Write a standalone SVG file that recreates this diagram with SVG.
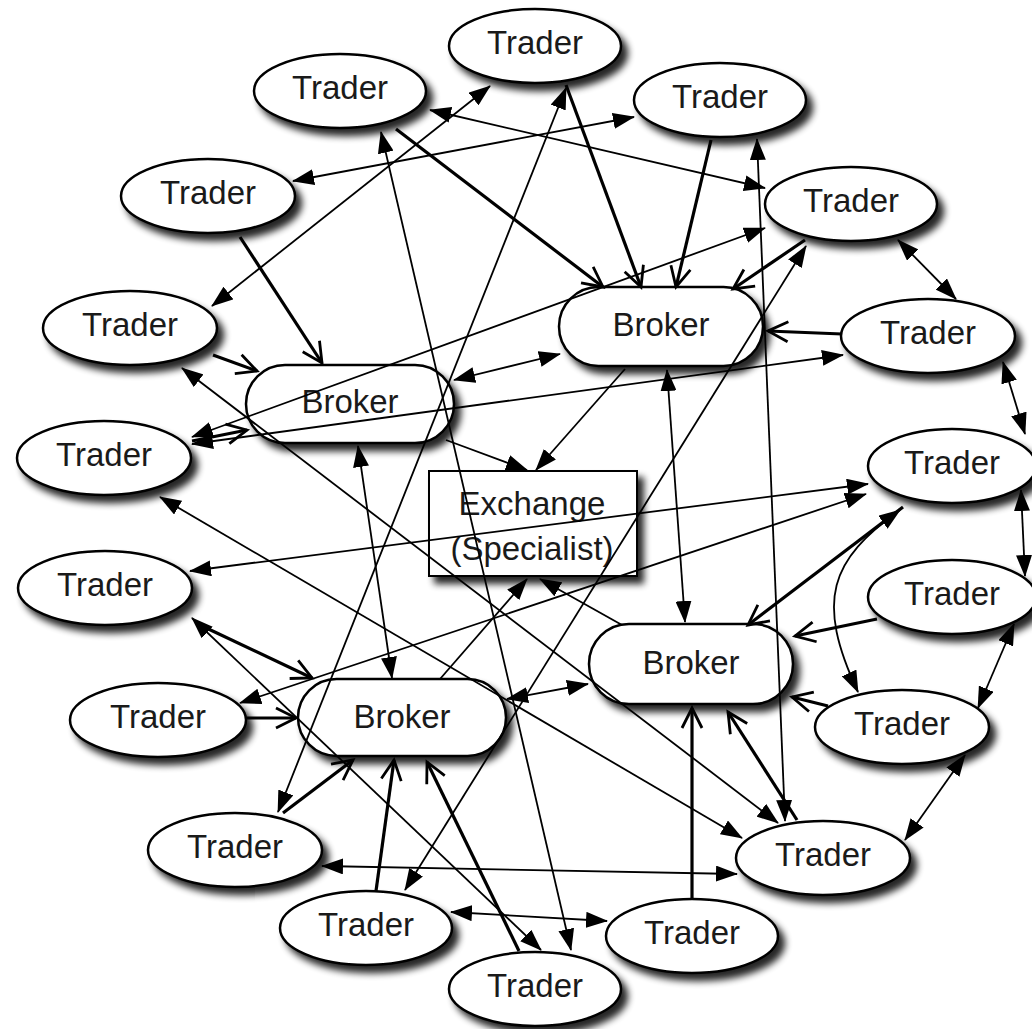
<svg xmlns="http://www.w3.org/2000/svg" width="1032" height="1029" viewBox="0 0 1032 1029">
<defs>
<style>
.n ellipse, .n rect {fill:#fff; stroke:#000; stroke-width:2.5}
text {font-family:"Liberation Sans", Arial, sans-serif; font-size:33px; fill:#1a1a1a; text-anchor:middle}
#edges line, #edges path {stroke:#000; fill:none; stroke-width:1.8}
#edges .k {stroke-width:3.2}
.d {marker-start:url(#f); marker-end:url(#f)}
.e {marker-end:url(#f)}
.o {marker-end:url(#o)}
</style>
<filter id="sh" x="-20%" y="-20%" width="150%" height="160%">
<feGaussianBlur in="SourceAlpha" stdDeviation="3.5"/>
<feOffset dx="6" dy="7"/>
<feComponentTransfer><feFuncA type="linear" slope="0.85"/></feComponentTransfer>
<feMerge><feMergeNode/><feMergeNode in="SourceGraphic"/></feMerge>
</filter>
<marker id="f" viewBox="0 0 22 16" refX="21" refY="8" markerWidth="22" markerHeight="16" markerUnits="userSpaceOnUse" orient="auto-start-reverse"><path d="M0,0 L22,8 L0,16 z" fill="#000"/></marker>
<marker id="o" viewBox="-3 -3 26 26" refX="20" refY="10" markerWidth="26" markerHeight="26" markerUnits="userSpaceOnUse" orient="auto"><path d="M0,0 L20,10 L0,20" fill="none" stroke="#000" stroke-width="2.8"/></marker>
</defs>
<rect width="1032" height="1029" fill="#fff"/>

<g id="nodes">
<g id="t1" class="n"><ellipse cx="535" cy="46" rx="86" ry="37" filter="url(#sh)"/><text x="535" y="54">Trader</text></g>
<g id="t2" class="n"><ellipse cx="340" cy="91" rx="86" ry="37" filter="url(#sh)"/><text x="340" y="99">Trader</text></g>
<g id="t3" class="n"><ellipse cx="720" cy="100" rx="86" ry="37" filter="url(#sh)"/><text x="720" y="108">Trader</text></g>
<g id="t4" class="n"><ellipse cx="208" cy="196" rx="87" ry="37" filter="url(#sh)"/><text x="208" y="204">Trader</text></g>
<g id="t5" class="n"><ellipse cx="851" cy="204" rx="86" ry="37" filter="url(#sh)"/><text x="851" y="212">Trader</text></g>
<g id="t6" class="n"><ellipse cx="130" cy="328" rx="87" ry="37" filter="url(#sh)"/><text x="130" y="336">Trader</text></g>
<g id="t7" class="n"><ellipse cx="928" cy="336" rx="87" ry="37" filter="url(#sh)"/><text x="928" y="344">Trader</text></g>
<g id="t8" class="n"><ellipse cx="104" cy="458" rx="87" ry="37" filter="url(#sh)"/><text x="104" y="466">Trader</text></g>
<g id="t9" class="n"><ellipse cx="952" cy="466" rx="84" ry="37" filter="url(#sh)"/><text x="952" y="474">Trader</text></g>
<g id="t10" class="n"><ellipse cx="105" cy="588" rx="87" ry="37" filter="url(#sh)"/><text x="105" y="596">Trader</text></g>
<g id="t11" class="n"><ellipse cx="952" cy="597" rx="84" ry="37" filter="url(#sh)"/><text x="952" y="605">Trader</text></g>
<g id="t12" class="n"><ellipse cx="158" cy="720" rx="88" ry="37" filter="url(#sh)"/><text x="158" y="728">Trader</text></g>
<g id="t13" class="n"><ellipse cx="902" cy="727" rx="87" ry="37" filter="url(#sh)"/><text x="902" y="735">Trader</text></g>
<g id="t14" class="n"><ellipse cx="235" cy="850" rx="87" ry="37" filter="url(#sh)"/><text x="235" y="858">Trader</text></g>
<g id="t15" class="n"><ellipse cx="823" cy="858" rx="87" ry="37" filter="url(#sh)"/><text x="823" y="866">Trader</text></g>
<g id="t16" class="n"><ellipse cx="366" cy="928" rx="86" ry="37" filter="url(#sh)"/><text x="366" y="936">Trader</text></g>
<g id="t17" class="n"><ellipse cx="692" cy="936" rx="86" ry="37" filter="url(#sh)"/><text x="692" y="944">Trader</text></g>
<g id="t18" class="n"><ellipse cx="535" cy="989" rx="86" ry="37" filter="url(#sh)"/><text x="535" y="997">Trader</text></g>

<g id="b1" class="n"><rect x="559" y="287" width="204" height="79" rx="39.5" filter="url(#sh)"/><text x="661" y="336">Broker</text></g>
<g id="b2" class="n"><rect x="246" y="365" width="208" height="78" rx="39" filter="url(#sh)"/><text x="350" y="413">Broker</text></g>
<g id="b3" class="n"><rect x="589" y="624" width="204" height="80" rx="40" filter="url(#sh)"/><text x="691" y="674">Broker</text></g>
<g id="b4" class="n"><rect x="298" y="679" width="208" height="77" rx="38.5" filter="url(#sh)"/><text x="402" y="728">Broker</text></g>

<g id="exchange" class="n"><rect x="429" y="471" width="208" height="105" filter="url(#sh)" style="stroke-width:2"/><text x="532" y="515">Exchange</text><text x="532" y="560">(Specialist)</text></g>
</g>

<g id="edges">
<!-- trader to trader -->
<line class="d" x1="430" y1="110" x2="765" y2="188"/>
<line class="d" x1="293" y1="181" x2="634" y2="117"/>
<line class="d" x1="212" y1="306" x2="490" y2="86"/>
<line class="d" x1="381" y1="132" x2="571" y2="950"/>
<line class="d" x1="566" y1="88" x2="278" y2="812"/>
<line class="d" x1="757" y1="139" x2="785" y2="821"/>
<line class="d" x1="898" y1="240" x2="956" y2="299"/>
<line class="d" x1="192" y1="437" x2="765" y2="228"/>
<line class="d" x1="192" y1="444" x2="843" y2="355"/>
<line class="d" x1="182" y1="368" x2="778" y2="823"/>
<line class="d" x1="160" y1="497" x2="742" y2="838"/>
<line class="d" x1="190" y1="571" x2="868" y2="484"/>
<line class="d" x1="240" y1="703" x2="866" y2="494"/>
<line class="d" x1="192" y1="618" x2="541" y2="950"/>
<line class="d" x1="1003" y1="362" x2="1025" y2="434"/>
<line class="d" x1="1021" y1="490" x2="1025" y2="576"/>
<line class="d" x1="1014" y1="624" x2="978" y2="708"/>
<line class="d" x1="965" y1="755" x2="905" y2="840"/>
<line class="d" x1="322" y1="866" x2="737" y2="874"/>
<line class="d" x1="451" y1="912" x2="607" y2="921"/>
<line class="d" x1="806" y1="246" x2="405" y2="890"/>
<path class="d" d="M 900 510 C 830 560, 815 600, 858 692"/>
<!-- broker / exchange -->
<line class="d" x1="454" y1="380" x2="560" y2="354"/>
<line class="d" x1="667" y1="370" x2="685" y2="622"/>
<line class="d" x1="358" y1="446" x2="392" y2="678"/>
<line class="d" x1="507" y1="699" x2="588" y2="684"/>
<line class="e" x1="625" y1="369" x2="536" y2="470"/>
<line class="e" x1="446" y1="440" x2="527" y2="470"/>
<line class="e" x1="440" y1="679" x2="527" y2="579"/>
<line class="e" x1="622" y1="625" x2="540" y2="579"/>
<!-- trader to broker -->
<line class="k o" x1="240" y1="237" x2="322" y2="363"/>
<line class="k o" x1="396" y1="129" x2="603" y2="287"/>
<line class="k o" x1="566" y1="85" x2="641" y2="287"/>
<line class="k o" x1="711" y1="140" x2="676" y2="287"/>
<line class="k o" x1="805" y1="240" x2="733" y2="289"/>
<line class="k o" x1="842" y1="334" x2="768" y2="331"/>
<line class="k o" x1="213" y1="355" x2="257" y2="371"/>
<line class="k o" x1="192" y1="441" x2="247" y2="430"/>
<line class="k o" x1="200" y1="625" x2="312" y2="678"/>
<line class="k o" x1="247" y1="718" x2="296" y2="718"/>
<line class="k o" x1="283" y1="813" x2="353" y2="760"/>
<line class="k o" x1="376" y1="891" x2="394" y2="760"/>
<line class="k o" x1="519" y1="951" x2="427" y2="762"/>
<line class="k o" x1="903" y1="507" x2="748" y2="625"/>
<line class="k o" x1="877" y1="619" x2="795" y2="636"/>
<line class="k o" x1="828" y1="706" x2="792" y2="697"/>
<line class="k o" x1="797" y1="820" x2="728" y2="712"/>
<line class="k o" x1="692" y1="899" x2="692" y2="708"/>
</g>
</svg>
